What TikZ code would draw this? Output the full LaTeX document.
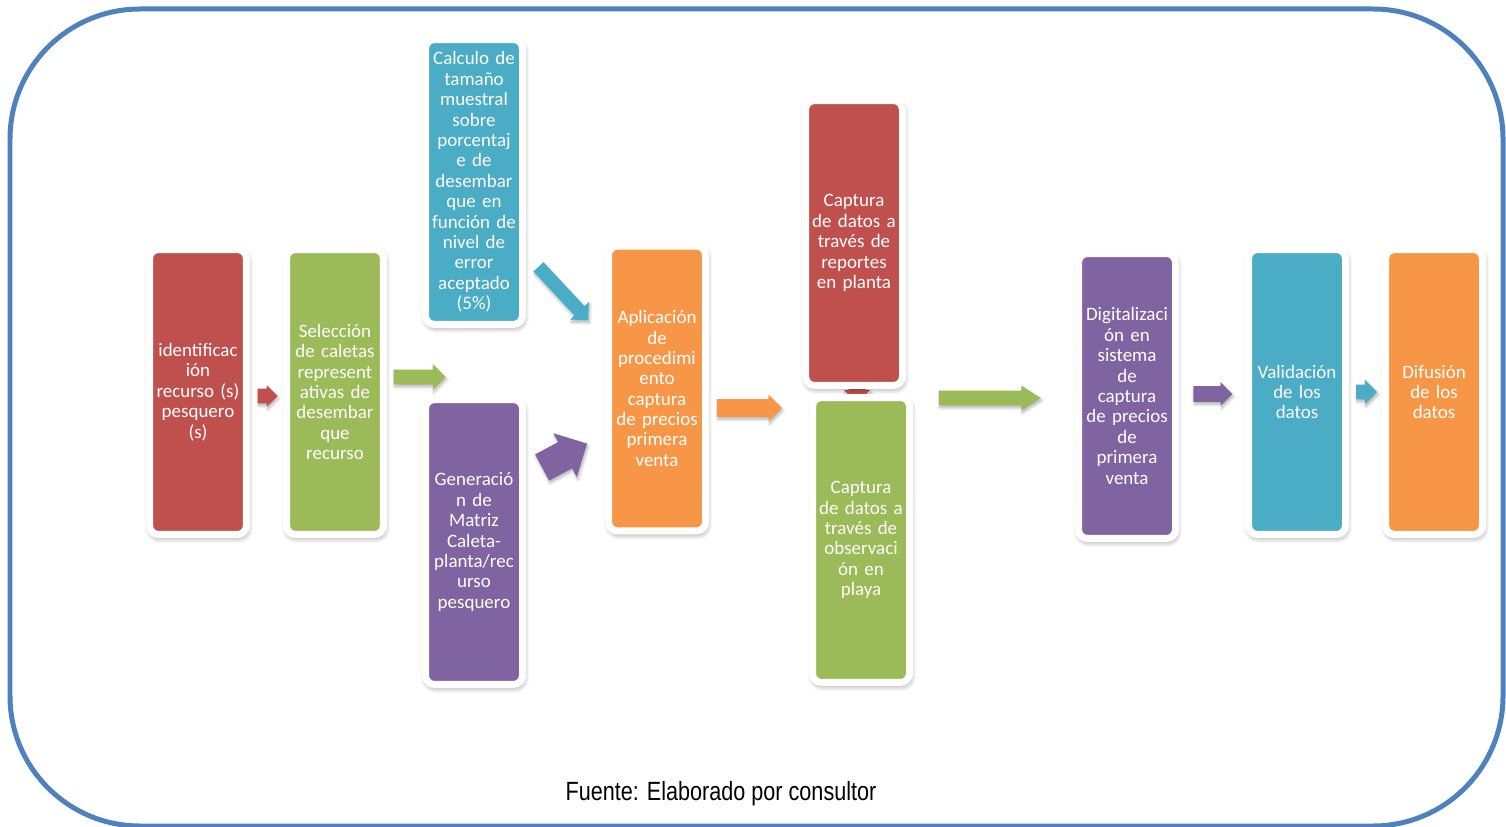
\documentclass[tikz,border=0pt]{standalone}
\usepackage{fontspec}
\setmainfont{Carlito}
\newfontfamily\capfont[FakeStretch=0.82]{Liberation Sans}
\usetikzlibrary{shapes.arrows}
\usetikzlibrary{shadows.blur}
\definecolor{rojo}{HTML}{C0504D}
\definecolor{verde}{HTML}{9BBB59}
\definecolor{celeste}{HTML}{4BACC6}
\definecolor{morado}{HTML}{8064A2}
\definecolor{naranja}{HTML}{F79646}
\definecolor{marco}{HTML}{4F81BD}
\tikzset{
    paso/.style={
        draw=white,
        line width=0.14cm,
        rounded corners=0.18cm,
        minimum width=1.94cm,
        minimum height=5.7cm,
        text width=1.8cm,
        inner sep=0pt,
        align=center,
        text=white,
        font=\fontsize{10.8}{11.6}\selectfont,
        blur shadow={shadow xshift=0.02cm, shadow yshift=-0.06cm, shadow blur radius=0.12cm,
                     shadow blur steps=8, shadow opacity=45}},
    flecha/.style={
        single arrow,
        draw=none,
        inner xsep=0pt,
        single arrow head indent=0pt,
        blur shadow={shadow xshift=0.02cm, shadow yshift=-0.05cm, shadow blur radius=0.06cm,
                     shadow blur steps=5, shadow opacity=30}}}

\begin{document}
\begin{tikzpicture}[x=0.02cm, y=-0.02cm]
        \useasboundingbox (0,0) rectangle (1506,827);
        \draw[marco, line width=0.1cm, rounded corners=2.6cm] (10,9) rectangle (1503,826);

        % flecha escondida entre las dos capturas
        \node[flecha, fill=rojo, rotate=-90, minimum height=0.44cm, minimum width=0.48cm,
              inner ysep=0.16cm, single arrow head extend=0.1cm] (f9) at (857,388) {};

        \node[paso, fill=rojo] (ident) at (198,392) {identificac\\ión\\recurso (s)\\pesquero\\(s)};
        \node[paso, fill=verde] (selec) at (335,392) {Selección\\de caletas\\represent\\ativas de\\desembar\\que\\recurso};
        \node[paso, fill=celeste] (calc) at (474,182) {Calculo de\\tamaño\\muestral\\sobre\\porcentaj\\e de\\desembar\\que en\\función de\\nivel de\\error\\aceptado\\(5\%)};
        \node[paso, fill=morado] (matriz) at (474,542) {Generació\\n de\\Matriz\\Caleta-\\planta/rec\\urso\\pesquero};
        \node[paso, fill=naranja] (aplic) at (657,388.5) {Aplicación\\de\\procedimi\\ento\\captura\\de precios\\primera\\venta};
        \node[paso, fill=rojo] (planta) at (854,243) {Captura\\de datos a\\través de\\reportes\\en planta};
        \node[paso, fill=verde] (playa) at (861,540) {Captura\\de datos a\\través de\\observaci\\ón en\\playa};
        \node[paso, fill=morado] (digit) at (1127,396) {Digitalizaci\\ón en\\sistema\\de\\captura\\de precios\\de\\primera\\venta};
        \node[paso, fill=celeste] (valid) at (1297,392) {Validación\\de los\\datos};
        \node[paso, fill=naranja] (difus) at (1434,392) {Difusión\\de los\\datos};

        \node[flecha, fill=rojo, minimum height=0.4cm, minimum width=0.43cm,
              inner ysep=0.14cm, single arrow head extend=0.07cm] (f1) at (264,396) {};
        \node[flecha, fill=verde, minimum height=1.04cm, minimum width=0.5cm,
              inner ysep=0.14cm, single arrow head extend=0.11cm] (f2) at (416,377) {};
        \node[flecha, fill=celeste, rotate=-47, minimum height=1.46cm, minimum width=0.5cm,
              inner ysep=0.13cm, single arrow head extend=0.12cm] (f3) at (561,291) {};
        \node[flecha, fill=morado, rotate=28, minimum height=1.02cm, minimum width=0.98cm,
              inner ysep=0.29cm, single arrow head extend=0.2cm] (f4) at (558,459) {};
        \node[flecha, fill=naranja, minimum height=1.3cm, minimum width=0.52cm,
              inner ysep=0.17cm, single arrow head extend=0.09cm] (f5) at (745,408) {};
        \node[flecha, fill=verde, single arrow tip angle=65, minimum height=2.04cm, minimum width=0.48cm,
              inner ysep=0.14cm, single arrow head extend=0.1cm] (f6) at (984,398) {};
        \node[flecha, fill=morado, minimum height=0.78cm, minimum width=0.46cm,
              inner ysep=0.15cm, single arrow head extend=0.08cm] (f7) at (1209,394) {};
        \node[flecha, fill=celeste, minimum height=0.42cm, minimum width=0.48cm,
              inner ysep=0.14cm, single arrow head extend=0.1cm] (f8) at (1363,392) {};

        \node[font=\capfont\fontsize{15}{17}\selectfont] (fuente) at (721,794) {Fuente: Elaborado por consultor};
    \end{tikzpicture}
\end{document}
